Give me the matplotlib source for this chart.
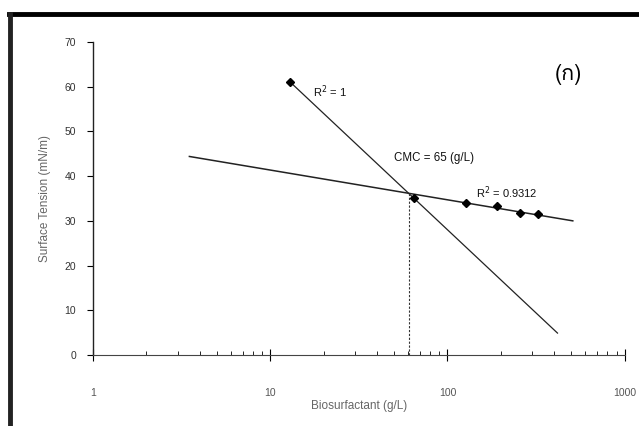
import numpy as np
import matplotlib
matplotlib.use('Agg')
import matplotlib.pyplot as plt
from matplotlib.lines import Line2D
from matplotlib import font_manager
from matplotlib.ft2font import FT2Font

plt.rcParams['font.family'] = ['Liberation Sans', 'DejaVu Sans']

# ค่าที่อ่านจากกราฟ
steep_x = [13, 65]
steep_y = [61.0, 35.2]
flat_x = [128, 191, 258, 323]
flat_y = [34.1, 33.3, 31.8, 31.5]

# เส้นแนวโน้ม (ปลายเส้นอ่านจากรูป)
steep_line_x = [13, 418]
steep_line_y = [61.0, 4.9]
flat_line_x = [3.5, 510]
flat_line_y = [44.4, 30.0]

x_ticks = [1, 10, 100, 1000]
x_tick_labels = ['1', '10', '100', '1000']
y_ticks = [0, 10, 20, 30, 40, 50, 60, 70]
panel_label = '(ก)'


# หาฟอนต์ที่มีอักษรไทย
def find_thai_family():
    for f in font_manager.fontManager.ttflist:
        try:
            if 0x0E01 in FT2Font(f.fname).get_charmap():
                return f.name
        except Exception:
            pass
    return None


thai_family = find_thai_family()
label_fams = ([thai_family] if thai_family else []) + ['DejaVu Sans']

fig = plt.figure(figsize=(6.39, 4.26), dpi=100)
ax = fig.add_axes([0.1455, 0.1667, 0.832, 0.7347])

ax.plot(steep_line_x, steep_line_y, color='#222222', lw=0.9)
ax.plot(flat_line_x, flat_line_y, color='#222222', lw=1.1)
ax.plot(steep_x, steep_y, 'D', color='black', ms=3.8)
ax.plot(flat_x, flat_y, 'D', color='black', ms=3.8)

# จุดตัดของสองเส้น -> CMC
def line_coef(xs, ys):
    lx = np.log10(xs)
    b = (ys[1] - ys[0]) / (lx[1] - lx[0])
    return ys[0] - b * lx[0], b

a1, b1 = line_coef(steep_line_x, steep_line_y)
a2, b2 = line_coef(flat_line_x, flat_line_y)
lx_cross = (a2 - a1) / (b1 - b2)
x_cross = 10 ** lx_cross
y_cross = a1 + b1 * lx_cross
ax.plot([x_cross, x_cross], [0, y_cross], color='#333333', lw=0.8,
        linestyle=(0, (2, 1.5)))

ax.text(17.5, 58.8, 'R$^2$ = 1', fontsize=8, va='center', color='#111111')
ax.text(50, 44.1, 'CMC = 65 (g/L)', fontsize=8.3, va='center', color='#111111')
ax.text(145, 36.2, 'R$^2$ = 0.9312', fontsize=8, va='center', color='#111111')
ax.text(480, 62.8, panel_label, fontsize=15.5, ha='center', va='center',
        family=label_fams)

ax.set_xscale('log')
ax.set_xlim(1, 1000)
ax.set_ylim(0, 70)
ax.set_xticks(x_ticks)
ax.set_xticklabels(x_tick_labels)
ax.set_yticks(y_ticks)

for s in ['top', 'right']:
    ax.spines[s].set_visible(False)
ax.spines['left'].set_color('#222222')
ax.spines['bottom'].set_color('#444444')
ax.spines['left'].set_linewidth(1.0)
ax.spines['bottom'].set_linewidth(0.8)

ax.tick_params(axis='x', which='major', direction='inout', length=8,
               pad=20, labelsize=7.5, labelcolor='#555555')
ax.tick_params(axis='x', which='minor', direction='in', length=3)
ax.tick_params(axis='y', which='major', direction='out', length=4,
               pad=8, labelsize=7.5, labelcolor='#333333')

ax.set_xlabel('Biosurfactant (g/L)', fontsize=8.5, color='#666666', labelpad=1)
ax.set_ylabel('Surface Tension (mN/m)', fontsize=8.5, color='#666666', labelpad=10)

# กรอบดำจากภาพสแกน
fig.add_artist(Line2D([0.0135, 1.0], [0.968, 0.968], color='black', lw=3.5))
fig.add_artist(Line2D([0.0155, 0.0155], [0.0, 0.968], color='#222222', lw=3.5))

plt.savefig('out.png', dpi=100)
